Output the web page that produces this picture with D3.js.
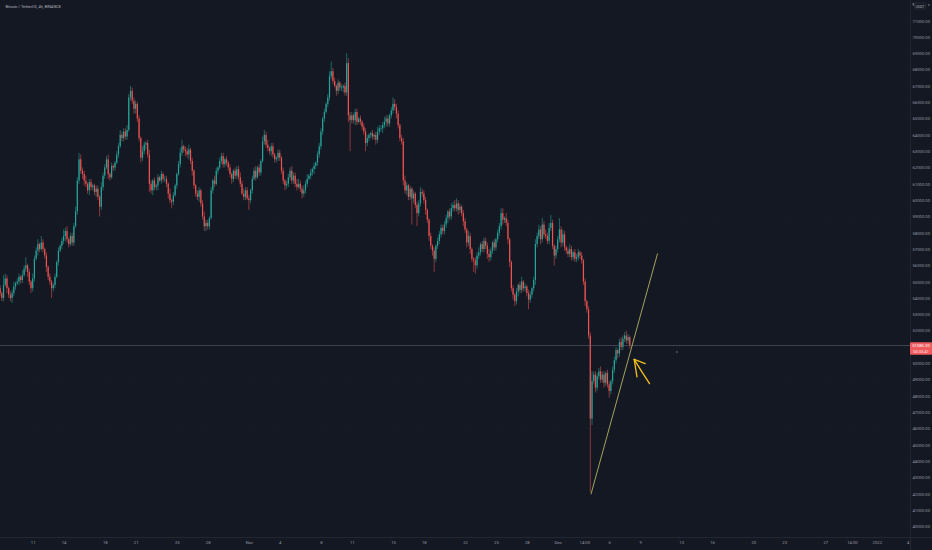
<!DOCTYPE html>
<html>
<head>
<meta charset="utf-8">
<script src="https://cdn.jsdelivr.net/npm/d3@7"></script>
<style>
  html,body{margin:0;padding:0;background:#141823;overflow:hidden;}
  svg{display:block;}
  text{font-family:Roboto,"Noto Sans",sans-serif;}
</style>
</head>
<body>
<svg id="chart" width="932" height="550"></svg>
<script>
// ---------------- DATA (prices in thousands of USDT, 4h candles) ----------------
const firstCandle = "2021-10-07T20:00:00Z";
const firstOpen = 54.6;
const closes = [
  54.3,                                 // Oct 7 20:00
  54.0, 54.8, 55.2, 54.6, 54.2, 54.0,   // Oct 8
  54.3, 54.7, 54.9, 55.0, 55.3, 55.1,   // Oct 9
  55.4, 55.8, 56.0, 55.6, 55.0, 54.6,   // Oct 10
  55.2, 56.4, 56.9, 57.3, 57.0, 57.4,   // Oct 11
  57.0, 56.6, 55.9, 55.3, 55.0, 54.6,   // Oct 12
  54.8, 55.3, 56.2, 56.9, 57.2, 57.5,   // Oct 13
  57.8, 58.1, 57.6, 57.3, 57.8, 57.4,   // Oct 14
  58.4, 59.3, 61.2, 62.5, 61.8, 61.6,   // Oct 15
  61.2, 61.0, 60.6, 61.1, 60.8, 60.9,   // Oct 16
  60.5, 60.7, 60.2, 59.6, 60.8, 61.5,   // Oct 17
  62.0, 62.5, 61.6, 61.4, 62.1, 62.0,   // Oct 18
  62.3, 62.8, 63.3, 64.0, 63.8, 64.2,   // Oct 19
  63.9, 64.3, 66.3, 66.7, 66.1, 65.6,   // Oct 20
  65.9, 65.0, 63.8, 62.6, 63.0, 63.4,   // Oct 21
  63.5, 62.8, 61.0, 60.6, 61.2, 60.8,   // Oct 22
  60.9, 61.4, 61.2, 61.6, 61.3, 61.3,   // Oct 23
  61.0, 60.4, 60.0, 59.9, 60.3, 60.9,   // Oct 24
  61.6, 62.2, 62.9, 63.3, 63.1, 63.0,   // Oct 25
  62.8, 63.1, 62.4, 61.8, 60.9, 60.4,   // Oct 26
  60.2, 60.6, 59.8, 59.0, 58.4, 58.6,   // Oct 27
  58.4, 58.9, 60.6, 61.2, 61.0, 61.8,   // Oct 28
  62.0, 62.4, 62.7, 62.2, 62.5, 62.3,   // Oct 29
  62.0, 61.6, 61.3, 61.8, 61.5, 61.9,   // Oct 30
  61.4, 61.0, 60.4, 60.2, 60.6, 60.1,   // Oct 31
  60.0, 60.6, 61.3, 61.8, 61.4, 62.0,   // Nov 1
  61.7, 62.4, 63.6, 64.0, 63.4, 63.2,   // Nov 2
  63.0, 63.3, 62.8, 62.5, 62.6, 62.9,   // Nov 3
  62.6, 61.8, 61.2, 60.9, 61.0, 61.4,   // Nov 4
  61.8, 61.2, 61.5, 61.0, 60.8, 61.0,   // Nov 5
  60.7, 60.4, 60.6, 61.0, 61.3, 61.5,   // Nov 6
  61.7, 61.9, 62.1, 62.3, 62.8, 63.3,   // Nov 7
  64.2, 65.0, 65.4, 65.9, 66.3, 67.6,   // Nov 8
  67.9, 67.3, 67.0, 66.7, 67.2, 66.9,   // Nov 9
  66.9, 67.0, 66.6, 68.4, 65.2, 64.9,   // Nov 10
  65.2, 64.9, 65.4, 64.8, 65.0, 64.8,   // Nov 11
  64.5, 64.2, 63.5, 63.8, 64.0, 64.1,   // Nov 12
  63.9, 64.0, 63.7, 64.2, 64.4, 64.4,   // Nov 13
  64.6, 64.8, 65.0, 64.7, 65.2, 65.5,   // Nov 14
  65.9, 65.7, 65.3, 64.6, 63.8, 63.6,   // Nov 15
  61.2, 60.6, 60.9, 60.2, 60.7, 60.1,   // Nov 16
  60.4, 59.7, 59.2, 59.8, 60.5, 60.4,   // Nov 17
  60.0, 59.4, 58.8, 57.8, 57.2, 56.9,   // Nov 18
  56.4, 57.2, 57.5, 57.9, 58.3, 58.1,   // Nov 19
  58.5, 58.9, 59.3, 59.0, 59.5, 59.7,   // Nov 20
  59.5, 59.8, 59.4, 59.6, 59.2, 58.7,   // Nov 21
  58.2, 57.4, 57.8, 57.0, 56.4, 56.3,   // Nov 22
  56.0, 56.6, 56.8, 57.3, 57.0, 57.5,   // Nov 23
  57.2, 56.7, 56.5, 56.9, 57.4, 57.1,   // Nov 24
  57.6, 58.0, 58.4, 59.2, 58.8, 58.9,   // Nov 25
  58.6, 57.6, 56.2, 54.6, 54.2, 53.8,   // Nov 26
  54.4, 54.8, 54.5, 55.0, 54.6, 54.7,   // Nov 27
  54.3, 53.9, 54.2, 54.6, 55.1, 57.3,   // Nov 28
  57.8, 58.2, 57.6, 58.5, 57.9, 57.8,   // Nov 29
  57.5, 58.3, 58.6, 57.2, 56.6, 57.0,   // Nov 30
  57.6, 58.2, 57.4, 57.9, 57.1, 56.9,   // Dec 1
  56.7, 57.0, 56.5, 56.8, 56.4, 56.5,   // Dec 2
  56.8, 56.6, 56.3, 55.0, 53.8, 53.3,   // Dec 3
  51.7, 46.6, 48.9, 49.3, 48.5, 49.2,   // Dec 4
  49.5, 49.0, 49.3, 48.8, 49.4, 48.7,   // Dec 5
  48.3, 48.9, 49.6, 50.2, 50.8, 50.6,   // Dec 6
  51.3, 51.0, 51.5, 51.7, 51.4, 51.6,   // Dec 7
  51.0853                               // Dec 8 00:00
];
// wick lengths above the body, in hundreds of USDT
const wickUp = [
  2,               // Oct 7
  1,6,3,2,1,2,     // Oct 8
  2,3,1,2,2,1,     // Oct 9
  3,2,5,1,2,1,     // Oct 10
  3,2,2,3,1,4,     // Oct 11
  2,1,2,1,2,1,     // Oct 12
  1,2,1,2,1,2,     // Oct 13
  4,2,3,1,2,2,     // Oct 14
  2,3,2,4,3,2,     // Oct 15
  2,3,1,2,2,1,     // Oct 16
  1,2,2,1,3,2,     // Oct 17
  2,2,3,1,2,1,     // Oct 18
  1,2,2,3,2,2,     // Oct 19
  2,3,2,3,2,2,     // Oct 20
  2,1,2,1,3,2,     // Oct 21
  1,2,3,2,1,2,     // Oct 22
  1,2,1,2,1,2,     // Oct 23
  2,1,3,1,2,1,     // Oct 24
  1,2,3,4,1,2,     // Oct 25
  2,3,1,2,1,1,     // Oct 26
  2,2,1,2,3,2,     // Oct 27
  2,1,2,1,3,2,     // Oct 28
  1,2,2,2,1,2,     // Oct 29
  1,2,1,1,2,2,     // Oct 30
  2,3,2,3,2,2,     // Oct 31
  2,1,2,2,3,1,     // Nov 1
  2,1,3,3,2,3,     // Nov 2
  1,2,2,1,1,2,     // Nov 3
  2,1,2,1,2,2,     // Nov 4
  2,3,2,2,3,3,     // Nov 5
  2,2,3,2,3,1,     // Nov 6
  2,1,2,1,2,2,     // Nov 7
  2,1,2,1,2,3,     // Nov 8
  6,2,2,1,2,1,     // Nov 9
  2,1,2,6,3,2,     // Nov 10
  2,1,2,2,1,2,     // Nov 11
  1,2,2,2,1,1,     // Nov 12
  2,1,2,3,2,2,     // Nov 13
  2,3,2,2,1,2,     // Nov 14
  4,3,2,2,1,2,     // Nov 15
  2,3,2,1,2,1,     // Nov 16
  2,1,2,2,3,2,     // Nov 17
  2,2,1,1,2,1,     // Nov 18
  2,1,2,2,2,2,     // Nov 19
  2,2,1,2,3,2,     // Nov 20
  3,3,2,2,1,2,     // Nov 21
  2,1,3,2,1,1,     // Nov 22
  2,2,3,1,2,2,     // Nov 23
  2,2,3,2,1,2,     // Nov 24
  1,2,2,3,3,1,     // Nov 25
  3,2,1,1,2,1,     // Nov 26
  2,1,2,3,1,2,     // Nov 27
  1,2,2,1,2,3,     // Nov 28
  2,3,2,4,2,3,     // Nov 29
  2,3,5,2,1,2,     // Nov 30
  2,7,2,3,2,1,     // Dec 1
  2,3,2,1,2,2,     // Dec 2
  2,1,2,1,2,1,     // Dec 3
  2,2,6,2,2,2,     // Dec 4
  2,3,2,2,1,2,     // Dec 5
  2,1,2,2,2,1,     // Dec 6
  2,3,2,2,3,2,     // Dec 7
  1                // Dec 8
];
// wick lengths below the body, in hundreds of USDT
const wickDn = [
  2,               // Oct 7
  2,2,1,3,2,2,     // Oct 8
  3,2,2,1,2,2,     // Oct 9
  2,1,2,3,2,3,     // Oct 10
  2,2,1,3,2,1,     // Oct 11
  2,2,3,2,2,6,     // Oct 12
  2,2,1,2,1,2,     // Oct 13
  2,3,2,2,1,2,     // Oct 14
  2,1,2,2,2,3,     // Oct 15
  3,2,2,3,2,2,     // Oct 16
  2,3,2,6,2,2,     // Oct 17
  2,1,3,2,1,2,     // Oct 18
  2,1,2,1,2,2,     // Oct 19
  2,2,1,2,2,3,     // Oct 20
  3,2,2,3,2,2,     // Oct 21
  3,2,5,2,3,2,     // Oct 22
  2,3,1,2,2,2,     // Oct 23
  2,3,2,4,2,1,     // Oct 24
  2,1,2,2,2,3,     // Oct 25
  2,3,2,3,2,2,     // Oct 26
  2,3,2,2,3,3,     // Oct 27
  2,2,1,2,2,1,     // Oct 28
  2,1,2,2,2,2,     // Oct 29
  2,2,3,2,2,2,     // Oct 30
  2,2,1,2,2,1,     // Oct 31
  6,2,2,1,2,1,     // Nov 1
  2,2,1,2,2,2,     // Nov 2
  2,3,2,2,2,2,     // Nov 3
  2,2,2,3,2,2,     // Nov 4
  2,2,2,2,2,1,     // Nov 5
  2,3,2,2,2,1,     // Nov 6
  2,2,3,2,2,2,     // Nov 7
  2,2,2,1,2,2,     // Nov 8
  2,2,1,3,2,2,     // Nov 9
  2,3,2,2,4,19,    // Nov 10
  2,2,3,2,1,2,     // Nov 11
  2,2,5,2,2,2,     // Nov 12
  2,2,3,2,2,2,     // Nov 13
  3,2,3,2,2,2,     // Nov 14
  2,2,3,2,2,2,     // Nov 15
  3,2,3,2,2,16,    // Nov 16
  3,2,8,2,2,2,     // Nov 17
  2,3,2,3,2,3,     // Nov 18
  8,2,2,2,2,2,     // Nov 19
  2,2,3,2,2,2,     // Nov 20
  2,2,3,2,2,3,     // Nov 21
  2,3,2,3,2,7,     // Nov 22
  5,2,2,2,2,2,     // Nov 23
  2,3,3,2,2,2,     // Nov 24
  2,2,2,2,3,2,     // Nov 25
  2,3,3,2,3,3,     // Nov 26
  2,3,2,2,2,2,     // Nov 27
  2,6,2,2,2,3,     // Nov 28
  2,2,3,2,2,2,     // Nov 29
  2,2,2,2,6,2,     // Nov 30
  2,2,3,2,2,2,     // Dec 1
  2,2,2,2,2,2,     // Dec 2
  2,2,2,2,3,2,     // Dec 3
  2,45,4,2,3,2,    // Dec 4
  2,2,2,3,2,2,     // Dec 5
  4,2,2,2,2,3,     // Dec 6
  2,2,2,2,2,2,     // Dec 7
  2                // Dec 8
];
const priceNow = 51085.30;
const countdown = "00:33:41";
const title = "Bitcoin / TetherUS, 4h, BINANCE";
const quote = "USDT";
const tickDates = ["2021-10-11","2021-10-14","2021-10-18","2021-10-21","2021-10-25","2021-10-28",
  "2021-11-01","2021-11-04","2021-11-08","2021-11-11","2021-11-15","2021-11-18","2021-11-22",
  "2021-11-25","2021-11-28","2021-12-01","2021-12-03T14:00","2021-12-06","2021-12-09","2021-12-13",
  "2021-12-16","2021-12-20","2021-12-23","2021-12-27","2021-12-29T14:00","2022-01-01","2022-01-04"];
const tickLabels = ["11","14","18","21","25","28","Nov","4","8","11","15","18","22","25","28",
  "Dec","14:00","6","9","13","16","20","23","27","14:00","2022","4"];
const priceTicks = [40000,41000,42000,43000,44000,45000,46000,47000,48000,49000,50000,51000,52000,
  53000,54000,55000,56000,57000,58000,59000,60000,61000,62000,63000,64000,65000,66000,67000,68000,
  69000,70000,71000];
// drawings: trend line, hand-drawn arrow, dot (time, price)
const trendLine = [["2021-12-04T05:30Z",41960],["2021-12-10T16:50Z",56730]];
const arrowShaft = [["2021-12-09T22:05Z",48750],["2021-12-09T04:00Z",49480],["2021-12-08T10:20Z",50230]];
const arrowBarbA = [["2021-12-08T10:20Z",50230],["2021-12-09T12:00Z",49980]];
const arrowBarbB = [["2021-12-08T10:20Z",50230],["2021-12-08T16:50Z",49160]];
const dotMark = ["2021-12-12T14:00Z",50690];

// ---------------- BUILD ----------------
const W = 932, H = 550, plotR = 910, plotB = 537;
const svg = d3.select("#chart");
const pd = s => new Date(s.length <= 10 ? s + "T00:00:00Z" : (s.endsWith("Z") ? s : s + ":00Z"));

const x = d3.scaleUtc()
  .domain([pd("2021-10-11"), pd("2022-01-04")])
  .range([32.7, 907.7]);
const y = d3.scaleLinear().domain([40000, 71000]).range([526.3, 20.7]);

const t0 = pd(firstCandle).getTime();
const candles = closes.map((c, i) => {
  const o = i === 0 ? firstOpen : closes[i - 1];
  const top = Math.max(o, c), bot = Math.min(o, c);
  return {
    t: new Date(t0 + i * 4 * 3600e3),
    o: o * 1000, c: c * 1000,
    h: top * 1000 + (wickUp[i] || 0) * 100,
    l: bot * 1000 - (wickDn[i] || 0) * 100
  };
});

svg.append("rect").attr("width", W).attr("height", H).attr("fill", "#141823");

// grid
const grid = svg.append("g");
grid.selectAll("line.h").data(priceTicks).join("line")
  .attr("x1", 0).attr("x2", plotR).attr("y1", d => y(d)).attr("y2", d => y(d))
  .attr("stroke", "#181c28").attr("stroke-width", 0.6);
grid.selectAll("line.v").data(tickDates).join("line")
  .attr("y1", 0).attr("y2", plotB).attr("x1", d => x(pd(d))).attr("x2", d => x(pd(d)))
  .attr("stroke", "#181c28").attr("stroke-width", 0.6);

// candles
const up = "#26a69a", dn = "#ef5350";
const cg = svg.append("g");
cg.selectAll("line").data(candles).join("line")
  .attr("x1", d => x(d.t)).attr("x2", d => x(d.t))
  .attr("y1", d => y(d.h)).attr("y2", d => y(d.l))
  .attr("stroke", d => d.c >= d.o ? up : dn).attr("stroke-width", 0.55);
cg.selectAll("rect").data(candles).join("rect")
  .attr("x", d => x(d.t) - 0.6).attr("width", 1.2)
  .attr("y", d => y(Math.max(d.o, d.c)))
  .attr("height", d => Math.max(0.6, Math.abs(y(d.o) - y(d.c))))
  .attr("fill", d => d.c >= d.o ? up : dn);

// current price line
svg.append("line").attr("x1", 0).attr("x2", plotR)
  .attr("y1", y(priceNow)).attr("y2", y(priceNow))
  .attr("stroke", "#5a5e6b").attr("stroke-width", 0.6);

// trend line
const lineGen = d3.line().x(d => x(pd(d[0]))).y(d => y(d[1]));
svg.append("path").attr("d", lineGen(trendLine)).attr("fill", "none")
  .attr("stroke", "#c9c46a").attr("stroke-width", 0.8);

// arrow
const curveGen = d3.line().x(d => x(pd(d[0]))).y(d => y(d[1])).curve(d3.curveCatmullRom);
[arrowShaft, arrowBarbA, arrowBarbB].forEach(seg => {
  svg.append("path").attr("d", curveGen(seg)).attr("fill", "none")
    .attr("stroke", "#f5c21b").attr("stroke-width", 1.3).attr("stroke-linecap", "round");
});
svg.append("circle").attr("cx", x(pd(dotMark[0]))).attr("cy", y(dotMark[1])).attr("r", 0.7)
  .attr("fill", "#9a9ea8");

// axis panels
svg.append("rect").attr("x", plotR).attr("y", 0).attr("width", W - plotR).attr("height", H).attr("fill", "#141823");
svg.append("rect").attr("x", 0).attr("y", plotB).attr("width", W).attr("height", H - plotB).attr("fill", "#141823");
svg.append("line").attr("x1", plotR + 0.5).attr("x2", plotR + 0.5).attr("y1", 0).attr("y2", H)
  .attr("stroke", "#2a2e39").attr("stroke-width", 0.7);
svg.append("line").attr("x1", 0).attr("x2", W).attr("y1", plotB + 0.5).attr("y2", plotB + 0.5)
  .attr("stroke", "#2a2e39").attr("stroke-width", 0.7);

// right axis
const yAxis = d3.axisRight(y).tickValues(priceTicks).tickFormat(d3.format(".2f")).tickSize(0).tickPadding(0);
const ya = svg.append("g").attr("transform", `translate(${plotR + 2.5},0)`).call(yAxis);
ya.select(".domain").remove();
ya.selectAll("text").attr("fill", "#9598a1").attr("font-size", 4.2);

// bottom axis
const xAxis = d3.axisBottom(x).tickValues(tickDates.map(pd))
  .tickFormat((d, i) => tickLabels[i]).tickSize(0).tickPadding(0);
const xa = svg.append("g").attr("transform", `translate(0,${plotB + 3.8})`).call(xAxis);
xa.select(".domain").remove();
xa.selectAll("text").attr("fill", "#9598a1").attr("font-size", 4.2);

// price label
const py = y(priceNow);
svg.append("rect").attr("x", plotR).attr("y", py - 3.2).attr("width", W - plotR).attr("height", 12.5)
  .attr("fill", "#f0595d").attr("rx", 1);
svg.append("text").attr("x", plotR + 11).attr("y", py + 1.6).attr("text-anchor", "middle")
  .attr("fill", "#ffffff").attr("font-size", 4.2).text(d3.format(".2f")(priceNow));
svg.append("text").attr("x", plotR + 11).attr("y", py + 7.2).attr("text-anchor", "middle")
  .attr("fill", "#ffe9e9").attr("font-size", 4.0).text(countdown);

// title & quote currency
svg.append("text").attr("x", 5.5).attr("y", 8.3).attr("fill", "#b2b5be").attr("font-size", 3.9).text(title);
svg.append("text").attr("x", 920).attr("y", 7.5).attr("text-anchor", "middle")
  .attr("fill", "#b2b5be").attr("font-size", 3.6).text(quote);
svg.append("rect").attr("x", 914.5).attr("y", 3).attr("width", 11).attr("height", 6)
  .attr("fill", "none").attr("stroke", "#3a3e49").attr("stroke-width", 0.5).attr("rx", 1);
svg.append("text").attr("x", 912.3).attr("y", 6).attr("fill", "#b2b5be").attr("font-size", 3.4).text("₮");
svg.append("text").attr("x", 927.8).attr("y", 6).attr("fill", "#b2b5be").attr("font-size", 3.4).text("▾");
</script>
</body>
</html>
